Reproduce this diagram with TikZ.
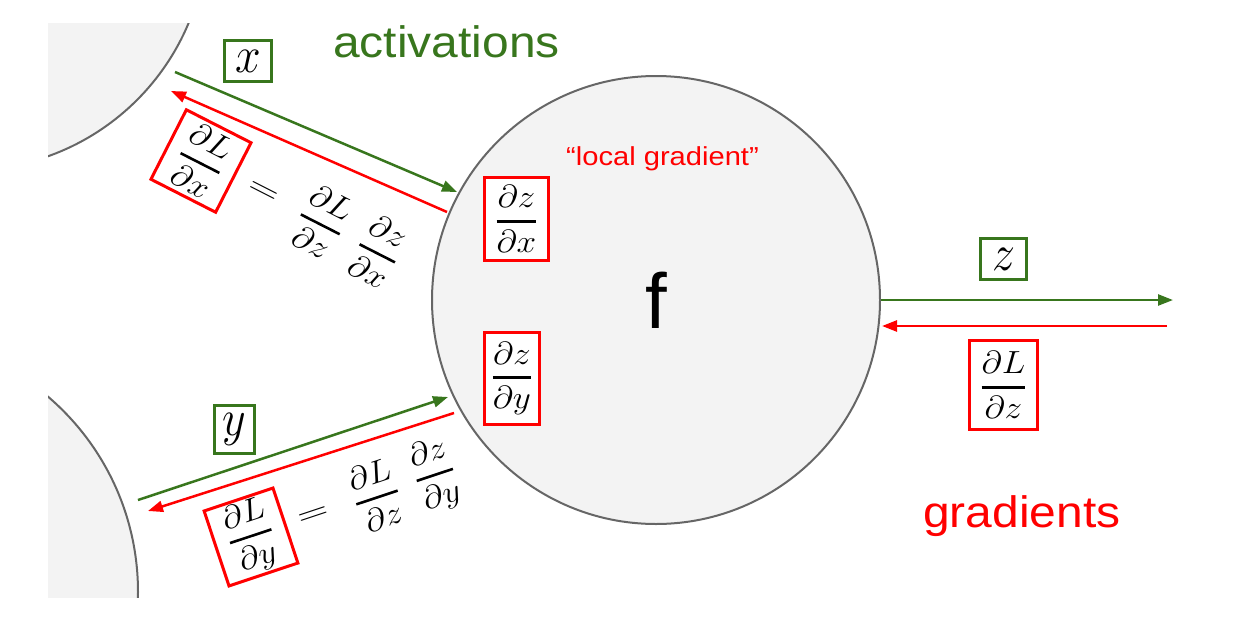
\RequirePackage{fix-cm}
\documentclass[tikz,border=0pt]{standalone}
\usepackage{amsmath}
\usepackage{graphicx}
\usepackage[no-math]{fontspec}
\newfontfamily\arial{Liberation Sans}
\usetikzlibrary{arrows.meta}
\definecolor{actgreen}{RGB}{56,118,29}
\definecolor{nodegray}{RGB}{243,243,243}
\definecolor{edgegray}{RGB}{102,102,102}
\newcommand{\mathsz}{\fontsize{32}{38}\selectfont}
\newcommand{\varsz}{\fontsize{46}{52}\selectfont}
\newcommand{\pdfn}[2]{$\genfrac{}{}{2.6pt}{0}{\partial #1}{\partial #2}$}
\newcommand{\pdfr}[2]{\scalebox{1.1}[1]{\pdfn{#1}{#2}}}
\tikzset{
  gline/.style={draw=actgreen, line width=2.5pt, -{Triangle[length=15pt,width=11pt]}},
  rline/.style={draw=red, line width=2.5pt, -{Triangle[length=15pt,width=11pt]}},
  gbox/.style={draw=actgreen, line width=3pt, fill=white, inner sep=0pt, font=\varsz},
  rbox/.style={draw=red, line width=3pt, fill=white, inner sep=0pt, font=\mathsz},
  eqpart/.style={inner sep=0pt, font=\mathsz},
  sidecircle/.style={draw=edgegray, line width=2pt, fill=nodegray},
  maincircle/.style={circle, draw=edgegray, line width=2pt, fill=nodegray, inner sep=0pt, minimum size=448pt},
}
\begin{document}
\begin{tikzpicture}[x=1pt, y=-1pt]
\useasboundingbox (0,0) rectangle (1239,627);
% side circles, clipped
\begin{scope}
  \clip (48,23) rectangle (1239,597);
  \draw[sidecircle] (-32,-69) circle[radius=239pt];
  \draw[sidecircle] (-119,592) circle[radius=257pt];
\end{scope}
% main node
\node[maincircle] (f) at (656,300) {\arial\fontsize{78}{90}\selectfont f};
% arrow end points
\coordinate (xa1) at (175,72);   \coordinate (xa2) at (457,192);
\coordinate (xg1) at (447,212);  \coordinate (xg2) at (171,91);
\coordinate (ya1) at (138,500);  \coordinate (ya2) at (448,397);
\coordinate (yg1) at (454,413);  \coordinate (yg2) at (148,511);
\coordinate (za1) at (881,300);  \coordinate (za2) at (1173,300);
\coordinate (zg1) at (1167,326); \coordinate (zg2) at (882,326);
\draw[gline] (xa1) -- (xa2);
\draw[rline] (xg1) -- (xg2);
\draw[gline] (ya1) -- (ya2);
\draw[rline] (yg1) -- (yg2);
\draw[gline] (za1) -- (za2);
\draw[rline] (zg1) -- (zg2);
% variable boxes
\node[gbox, minimum width=47pt, minimum height=41pt] (xbox) at (248,61) {\scalebox{1}[1.12]{$x$}};
\node[gbox, minimum width=40pt, minimum height=48pt] (ybox) at (234.5,429.5) {\scalebox{1}[1.12]{$y$}};
\node[gbox, minimum width=46pt, minimum height=41pt] (zbox) at (1003.5,259) {\scalebox{1}[1.12]{$z$}};
% local gradients
\node[rbox, minimum width=64pt, minimum height=83pt] (dzdx) at (516.5,219) {\pdfr{z}{x}};
\node[rbox, minimum width=55pt, minimum height=92pt] (dzdy) at (512,378.5) {\pdfr{z}{y}};
\node[rbox, minimum width=68pt, minimum height=89pt] (dLdz) at (1003.5,385) {\pdfr{L}{z}};
% chain rule, x branch
\node[rbox, rotate=-27, xscale=1.1, minimum width=66pt, minimum height=78pt] (dLdx) at (201,161) {\pdfn{L}{x}};
\node[eqpart, rotate=-27, xscale=1.35] (eqx) at (262.5,192.3) {$=$};
\node[eqpart, rotate=-27, xscale=1.1] (dLdzx) at (321.3,222.3) {\pdfn{L}{z}};
\node[eqpart, rotate=-27, xscale=1.1] (dzdxx) at (378.3,251.3) {\pdfn{z}{x}};
% chain rule, y branch
\node[rbox, rotate=18.4, xscale=1.1, minimum width=66pt, minimum height=79pt] (dLdy) at (251,537) {\pdfn{L}{y}};
\node[eqpart, rotate=18.4, xscale=1.35] (eqy) at (313.6,516.1) {$=$};
\node[eqpart, rotate=18.4, xscale=1.1] (dLdzy) at (376.3,495.3) {\pdfn{L}{z}};
\node[eqpart, rotate=18.4, xscale=1.1] (dzdyy) at (435.1,475.7) {\pdfn{z}{y}};
% labels
\node[anchor=base west, inner sep=0pt, text=actgreen, font=\arial\fontsize{44}{50}\selectfont] (act) at (333,57) {\scalebox{1.09}[1]{activations}};
\node[anchor=base west, inner sep=0pt, text=red, font=\arial\fontsize{44}{50}\selectfont] (grad) at (923,527) {\scalebox{1.09}[1]{gradients}};
\node[anchor=base west, inner sep=0pt, text=red, font=\arial\fontsize{26}{30}\selectfont] (lg) at (566,165) {\scalebox{1.12}[1]{“local gradient”}};
\end{tikzpicture}
\end{document}
